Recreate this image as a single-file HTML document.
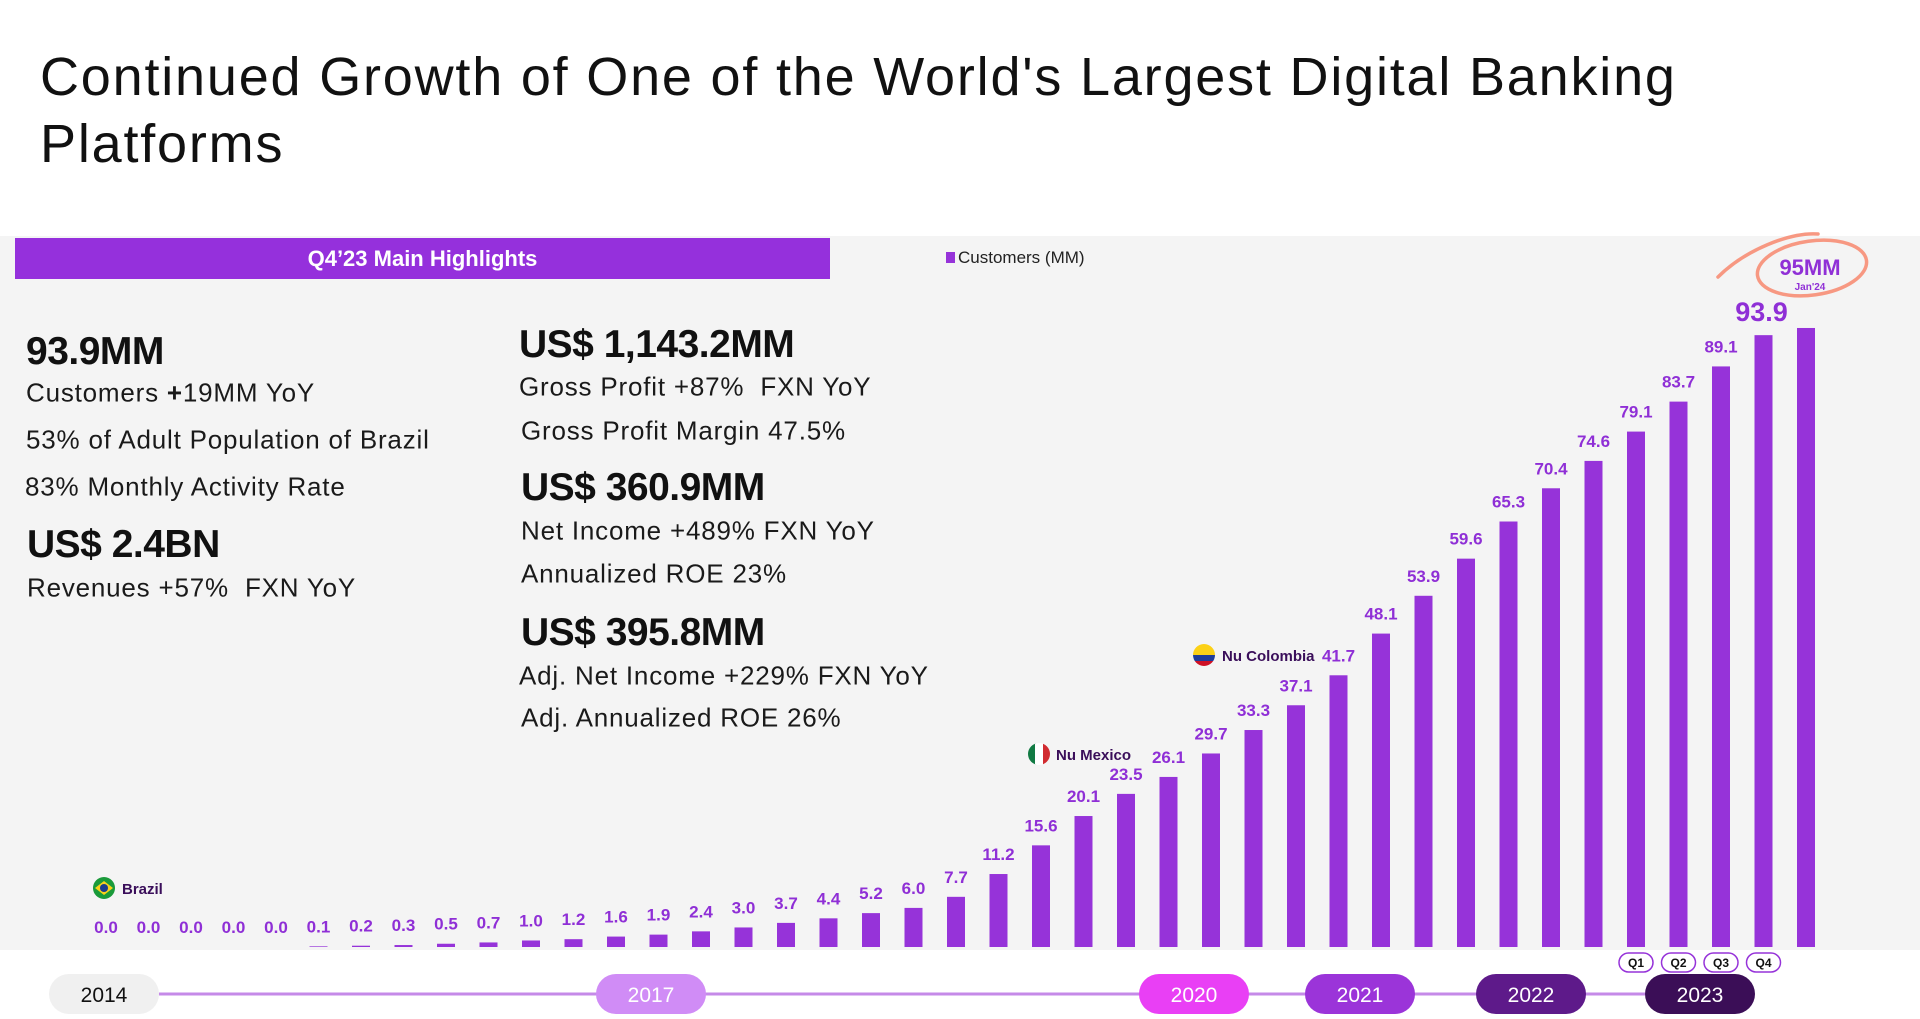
<!DOCTYPE html>
<html><head><meta charset="utf-8">
<style>
body{margin:0;width:1920px;height:1019px;background:#fff;overflow:hidden;font-family:"Liberation Sans",sans-serif;position:relative}
.t{position:absolute;white-space:nowrap;color:#111}
.big{font-weight:bold;font-size:39px;transform:translateY(-50%);letter-spacing:-0.5px}
.sub{font-size:26px;transform:translateY(-50%);color:#1a1a1a;letter-spacing:0.8px}
</style></head><body>
<div class="t" style="left:40px;top:44px;font-size:54px;line-height:67px;color:#111;letter-spacing:1.8px">Continued Growth of One of the World's Largest Digital Banking<br>Platforms</div>
<div style="position:absolute;left:0;top:236px;width:1920px;height:714px;background:#f4f4f4"></div>
<div style="position:absolute;left:15px;top:238px;width:815px;height:41px;background:#9530dc;color:#fff;font-weight:bold;font-size:22px;text-align:center;line-height:41px">Q4’23 Main Highlights</div>
<div class="t big" style="left:26px;top:352px">93.9MM</div>
<div class="t sub" style="left:26px;top:393px">Customers <b>+</b>19MM YoY</div>
<div class="t sub" style="left:26px;top:440px">53% of Adult Population of Brazil</div>
<div class="t sub" style="left:25px;top:487px">83% Monthly Activity Rate</div>
<div class="t big" style="left:27px;top:545px">US$ 2.4BN</div>
<div class="t sub" style="left:27px;top:588px">Revenues +57%&nbsp; FXN YoY</div>
<div class="t big" style="left:519px;top:345px">US$ 1,143.2MM</div>
<div class="t sub" style="left:519px;top:387px">Gross Profit +87%&nbsp; FXN YoY</div>
<div class="t sub" style="left:521px;top:431px">Gross Profit Margin 47.5%</div>
<div class="t big" style="left:521px;top:488px">US$ 360.9MM</div>
<div class="t sub" style="left:521px;top:531px">Net Income +489% FXN YoY</div>
<div class="t sub" style="left:521px;top:574px">Annualized ROE 23%</div>
<div class="t big" style="left:521px;top:633px">US$ 395.8MM</div>
<div class="t sub" style="left:519px;top:676px">Adj. Net Income +229% FXN YoY</div>
<div class="t sub" style="left:521px;top:718px">Adj. Annualized ROE 26%</div>
<div class="t" style="left:946px;top:248px;font-size:17px;color:#222"><span style="display:inline-block;width:9px;height:11px;background:#9633d9;margin-right:3px"></span>Customers (MM)</div>

<svg id="chart" width="1920" height="1019" style="position:absolute;left:0;top:0">
 <g id="bars"></g>
 <g>
  <circle cx="104" cy="888" r="11" fill="#1a9a3a"/><path d="M95 888 L104 881 L113 888 L104 895Z" fill="#f8d21b"/><circle cx="104" cy="888" r="4" fill="#1b3c8c"/>
  <text x="122" y="894" font-size="15" font-weight="bold" fill="#3a0e5a" font-family="Liberation Sans">Brazil</text></g>
 <g>
  <clipPath id="cm"><circle cx="1039" cy="754" r="11"/></clipPath>
  <g clip-path="url(#cm)"><rect x="1028" y="743" width="8" height="22" fill="#117a43"/><rect x="1035" y="743" width="8" height="22" fill="#fff"/><rect x="1043" y="743" width="8" height="22" fill="#d12b30"/></g>
  <text x="1056" y="760" font-size="15" font-weight="bold" fill="#3a0e5a" font-family="Liberation Sans">Nu Mexico</text></g>
 <g>
  <clipPath id="cc"><circle cx="1204" cy="655" r="11"/></clipPath>
  <g clip-path="url(#cc)"><rect x="1193" y="644" width="22" height="11" fill="#fcd116"/><rect x="1193" y="655" width="22" height="6" fill="#1f3d9a"/><rect x="1193" y="661" width="22" height="6" fill="#ce1126"/></g>
  <text x="1222" y="661" font-size="15" font-weight="bold" fill="#3a0e5a" font-family="Liberation Sans">Nu Colombia</text></g>
 <g>
  <path d="M1718 277 C1745 250 1790 232 1818 234" fill="none" stroke="#f79882" stroke-width="3.5" stroke-linecap="round"/>
  <ellipse cx="1812" cy="268" rx="55" ry="27" fill="none" stroke="#f79882" stroke-width="3.5" transform="rotate(-8 1812 268)"/>
  <text x="1810" y="275" text-anchor="middle" font-size="22" font-weight="bold" fill="#9030d6" font-family="Liberation Sans">95MM</text>
  <text x="1810" y="290" text-anchor="middle" font-size="10" font-weight="bold" fill="#9030d6" font-family="Liberation Sans">Jan'24</text></g>
 <line x1="159" y1="994" x2="1645" y2="994" stroke="#c58ae8" stroke-width="3"/>
 <g id="years"></g>
 <g id="quarters"></g>
</svg>
<script>
const values=[0,0,0,0,0,0.1,0.2,0.3,0.5,0.7,1.0,1.2,1.6,1.9,2.4,3.0,3.7,4.4,5.2,6.0,7.7,11.2,15.6,20.1,23.5,26.1,29.7,33.3,37.1,41.7,48.1,53.9,59.6,65.3,70.4,74.6,79.1,83.7,89.1,93.9,95];
const labels=["0.0","0.0","0.0","0.0","0.0","0.1","0.2","0.3","0.5","0.7","1.0","1.2","1.6","1.9","2.4","3.0","3.7","4.4","5.2","6.0","7.7","11.2","15.6","20.1","23.5","26.1","29.7","33.3","37.1","41.7","48.1","53.9","59.6","65.3","70.4","74.6","79.1","83.7","89.1","93.9",""];
const quarters=["Q1","Q2","Q3","Q4"];
const quarterBars=[36,37,38,39];
const years=["2014","2017","2020","2021","2022","2023"];
const yearStart=[49,596,1139,1305,1476,1645];
const yearColors=["#f0f0f0","#d08cf6","#e93ff5","#9b34d9","#5e1a8a","#3b0e57"];
const ns="http://www.w3.org/2000/svg";
const x0=106,step=42.5,base=947,k=6.516,bw=18;
const xs=i=>x0+i*step, ys=v=>base-v*k;
const gb=document.getElementById('bars');
values.forEach((v,i)=>{
 if(v>0){const r=document.createElementNS(ns,'rect');
 
 
 r.setAttribute('x',xs(i)-bw/2);r.setAttribute('y',ys(v));r.setAttribute('width',bw);r.setAttribute('height',v*k);r.setAttribute('fill','#9633d9');gb.appendChild(r);}
 if(labels[i]){const t=document.createElementNS(ns,'text');
 
 
 const big=i===39;
 t.setAttribute('x',big?xs(i)-2:xs(i));t.setAttribute('y',big?ys(v)-14:Math.min(ys(v)-14,933));
 t.setAttribute('text-anchor','middle');t.setAttribute('font-size',big?27:17);t.setAttribute('font-weight','bold');t.setAttribute('fill','#8f2fd6');t.setAttribute('font-family','Liberation Sans');
 t.textContent=labels[i];gb.appendChild(t);}
});
const gy=document.getElementById('years');
years.forEach((y,i)=>{const g=document.createElementNS(ns,'g');
 
 
 const r=document.createElementNS(ns,'rect');r.setAttribute('x',yearStart[i]);r.setAttribute('y',974);r.setAttribute('width',110);r.setAttribute('height',40);r.setAttribute('rx',20);r.setAttribute('fill',yearColors[i]);g.appendChild(r);
 const t=document.createElementNS(ns,'text');t.setAttribute('x',yearStart[i]+55);t.setAttribute('y',1002);t.setAttribute('text-anchor','middle');t.setAttribute('font-size',21);t.setAttribute('fill',i===0?'#111':'#fff');t.setAttribute('font-family','Liberation Sans');t.textContent=y;g.appendChild(t);gy.appendChild(g);});
const gq=document.getElementById('quarters');
quarters.forEach((q,i)=>{const g=document.createElementNS(ns,'g');
 
 
 const cx=xs(quarterBars[i]);
 const r=document.createElementNS(ns,'rect');r.setAttribute('x',cx-17);r.setAttribute('y',953);r.setAttribute('width',34);r.setAttribute('height',19);r.setAttribute('rx',9.5);r.setAttribute('fill','#fff');r.setAttribute('stroke','#9633d9');r.setAttribute('stroke-width',1.5);g.appendChild(r);
 const t=document.createElementNS(ns,'text');t.setAttribute('x',cx);t.setAttribute('y',967);t.setAttribute('text-anchor','middle');t.setAttribute('font-size',12);t.setAttribute('font-weight','bold');t.setAttribute('fill','#111');t.setAttribute('font-family','Liberation Sans');t.textContent=q;g.appendChild(t);gq.appendChild(g);});
</script>
</body></html>
